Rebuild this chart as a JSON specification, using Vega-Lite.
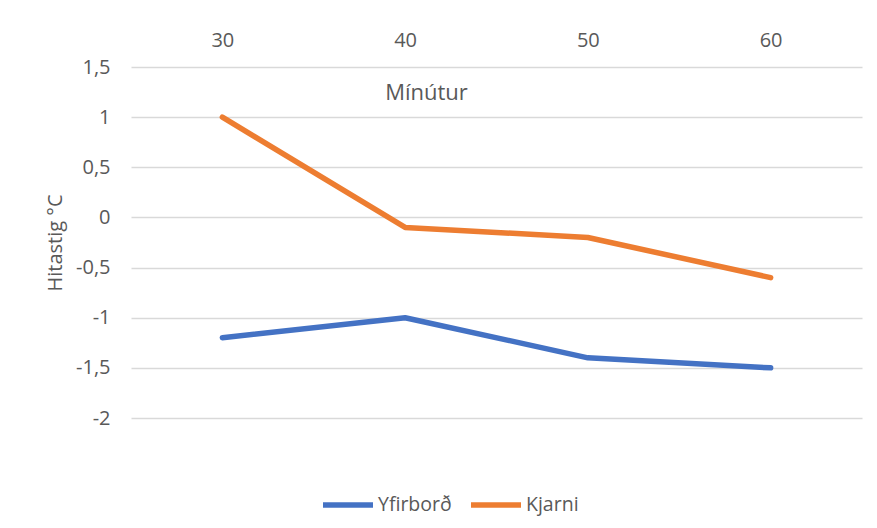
{
  "$schema": "https://vega.github.io/schema/vega-lite/v6.json",
  "width": 731,
  "height": 351,
  "autosize": {"type": "none"},
  "padding": {"left": 131, "top": 67, "right": 15, "bottom": 110},
  "background": "white",
  "config": {
    "font": "Open Sans",
    "view": {"stroke": null},
    "axis": {
      "labelColor": "#595959",
      "titleColor": "#595959",
      "labelFont": "Open Sans",
      "titleFont": "Open Sans",
      "titleFontWeight": "normal",
      "domain": false,
      "ticks": false
    }
  },
  "data": {
    "values": [
      {"min": "30", "series": "Yfirborð", "val": -1.2},
      {"min": "40", "series": "Yfirborð", "val": -1.0},
      {"min": "50", "series": "Yfirborð", "val": -1.4},
      {"min": "60", "series": "Yfirborð", "val": -1.5},
      {"min": "30", "series": "Kjarni", "val": 1.0},
      {"min": "40", "series": "Kjarni", "val": -0.1},
      {"min": "50", "series": "Kjarni", "val": -0.2},
      {"min": "60", "series": "Kjarni", "val": -0.6}
    ]
  },
  "mark": {"type": "line", "strokeWidth": 5.5, "strokeCap": "round", "strokeJoin": "round"},
  "encoding": {
    "x": {
      "field": "min",
      "type": "ordinal",
      "scale": {"type": "point", "padding": 0.5},
      "axis": {
        "orient": "top",
        "labelAngle": 0,
        "labelFontSize": 20,
        "labelPadding": 27,
        "labelBaseline": "middle",
        "grid": false,
        "title": "Mínútur",
        "titleFontSize": 22,
        "titleX": 295,
        "titleY": 25,
        "titleBaseline": "middle",
        "titleAnchor": null
      }
    },
    "y": {
      "field": "val",
      "type": "quantitative",
      "scale": {"domain": [-2, 1.5], "nice": false, "zero": false},
      "axis": {
        "values": [-2, -1.5, -1, -0.5, 0, 0.5, 1, 1.5],
        "labelExpr": "replace(toString(datum.value), '.', ',')",
        "labelFontSize": 20,
        "labelPadding": 21,
        "grid": true,
        "gridColor": "#d9d9d9",
        "gridWidth": 1.5,
        "title": "Hitastig °C",
        "titleFontSize": 20,
        "titleAngle": -90,
        "titleX": -76,
        "titleY": 175.5,
        "titleBaseline": "middle",
        "titleAlign": "center"
      }
    },
    "color": {
      "field": "series",
      "type": "nominal",
      "sort": ["Yfirborð", "Kjarni"],
      "scale": {"domain": ["Yfirborð", "Kjarni"], "range": ["#4472C4", "#ED7D31"]},
      "legend": {
        "title": null,
        "orient": "none",
        "direction": "horizontal",
        "legendX": 189,
        "legendY": 410,
        "symbolType": "stroke",
        "symbolSize": 2500,
        "symbolStrokeWidth": 5.5,
        "labelFontSize": 19.5,
        "labelColor": "#595959",
        "labelOffset": 2,
        "columnPadding": 8
      }
    }
  }
}
